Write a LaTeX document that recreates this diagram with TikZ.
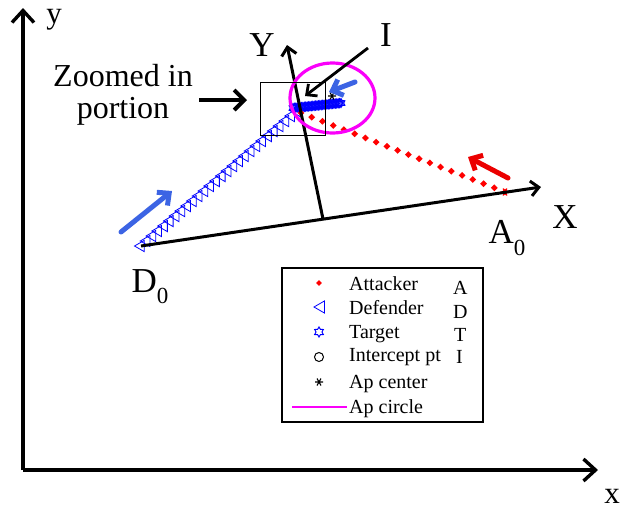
\documentclass[tikz,border=0pt]{standalone}
\usepackage{fontspec}
\setmainfont{Liberation Serif}
\usetikzlibrary{arrows.meta,shapes.geometric,calc}

\definecolor{arrowblue}{RGB}{60,100,228}
\definecolor{apmagenta}{RGB}{250,0,250}
\newcommand{\lowidx}[1]{\raisebox{-0.32em}{\fontsize{23}{23}\selectfont#1}}

\tikzset{
  frame/.style={line width=3.4pt,-{Straight Barb[length=12pt,width=22pt]}},
  relaxis/.style={line width=3pt,-{Straight Barb[length=8pt,width=15pt]}},
  motion/.style={line width=5pt,line cap=round,-{Straight Barb[length=9pt,width=17pt]}},
  deftri/.style={regular polygon,regular polygon sides=3,shape border rotate=90,
    draw=blue,line width=0.8pt,inner sep=0pt,minimum size=13pt},
  tgtstar/.style={star,star points=6,star point ratio=1.7,draw=blue,line width=1pt,
    inner sep=0pt,minimum size=9pt},
  attdot/.style={diamond,fill=red,inner sep=0pt,minimum size=7pt},
  bigtxt/.style={font=\fontsize{35}{35}\selectfont},
  legtxt/.style={font=\fontsize{20}{20}\selectfont,anchor=west,inner sep=0pt},
  astk/.pic={\draw[line width=1.1pt] (-4,0)--(4,0) (-2,-3.5)--(2,3.5) (-2,3.5)--(2,-3.5);}
}

\begin{document}
\begin{tikzpicture}[x=1pt,y=-1pt]
  \useasboundingbox (0,0) rectangle (625,512);
  % outer frame
  \coordinate (O) at (23,470);
  \coordinate (ytop) at (23,8);
  \coordinate (xend) at (598,470);
  \draw[frame] (O) -- (ytop);
  \draw[frame] (O) -- (xend);
  \node[font=\fontsize{31}{31}\selectfont,anchor=base] (ylab) at (54,23) {y};
  \node[font=\fontsize{31}{31}\selectfont,anchor=base] (xlab) at (612,503) {x};

  % start points
  \coordinate (D0) at (141,246);
  \coordinate (A0) at (505,192);
  \coordinate (Dend) at (297,111);
  \coordinate (Aend) at (301,113);

  % defender path
  \foreach \i in {0,...,27}
    \node[deftri] (d\i) at ($(D0)!{\i/27}!(Dend)$) {};
  % target path
  \foreach \i in {0,...,34}
    \node[tgtstar] (t\i) at ($(293,108)!{\i/34}!(341,103)$) {};
  % attacker path
  \foreach \i in {0,...,19}
    \node[attdot] (a\i) at ($(A0)!{\i/19}!(Aend)$) {};
  \pic[red] at (A0) {astk};
  \pic at (332,96) {astk};

  % rotated frame
  \coordinate (Xtip) at (541,187);
  \coordinate (Ybase) at (323,219);
  \coordinate (Ytip) at (287,45);
  \draw[relaxis] (D0) -- (Xtip);
  \draw[relaxis] (Ybase) -- (Ytip);
  \node[bigtxt] (Xlab) at (565,217) {X};
  \node[bigtxt] (Ylab) at (262,45) {Y};
  \node[bigtxt] (A0lab) at (507,238) {A\lowidx{0}};
  \node[bigtxt] (D0lab) at (150,287) {D\lowidx{0}};

  % Apollonius circle and zoom box
  \draw[apmagenta,line width=3.2pt] (332.5,98) ellipse (42.5 and 35);
  \draw[line width=1pt] (260,82) rectangle (325,135);

  % motion arrows
  \draw[motion,arrowblue] (121,232) -- (172,191);
  \draw[motion,arrowblue] (355,82) -- (329,92);
  \draw[motion,red!92!black] (508,178) -- (468,157);

  % intercept label
  \node[bigtxt] (Ilab) at (386,35) {I};
  \draw[relaxis,line width=2.8pt] (368,48) -- (305,96);

  % zoom note
  \node[font=\fontsize{32}{32}\selectfont,align=center] (zoomtxt) at (123,95) {Zoomed in\\portion};
  \draw[line width=4pt,-{Straight Barb[length=10pt,width=20pt]}] (199,100) -- (247,100);

  % legend
  \draw[line width=1.2pt] (282,268) rectangle (483,422);
  \node[attdot,minimum size=6pt] (lgA) at (319,283) {};
  \node[deftri,minimum size=14pt] (lgD) at (321,307) {};
  \node[tgtstar,minimum size=10pt] (lgT) at (319,332) {};
  \node[circle,draw,line width=1pt,minimum size=9pt,inner sep=0pt] (lgI) at (319,357) {};
  \pic at (319,382) {astk};
  \draw[color=apmagenta,line width=1.5pt] (292,407) -- (347,407);
  \node[legtxt] (tA) at (349,284) {Attacker};
  \node[legtxt] (tD) at (349,308) {Defender};
  \node[legtxt] (tT) at (349,334) {Target};
  \node[legtxt] (tI) at (349,357) {Intercept pt};
  \node[legtxt] (tC) at (349,384) {Ap center};
  \node[legtxt] (tR) at (349,409) {Ap circle};
  \node[legtxt] (sA) at (453,288) {A};
  \node[legtxt] (sD) at (453,312) {D};
  \node[legtxt] (sT) at (454,335) {T};
  \node[legtxt] (sI) at (456,357) {I};
\end{tikzpicture}
\end{document}
